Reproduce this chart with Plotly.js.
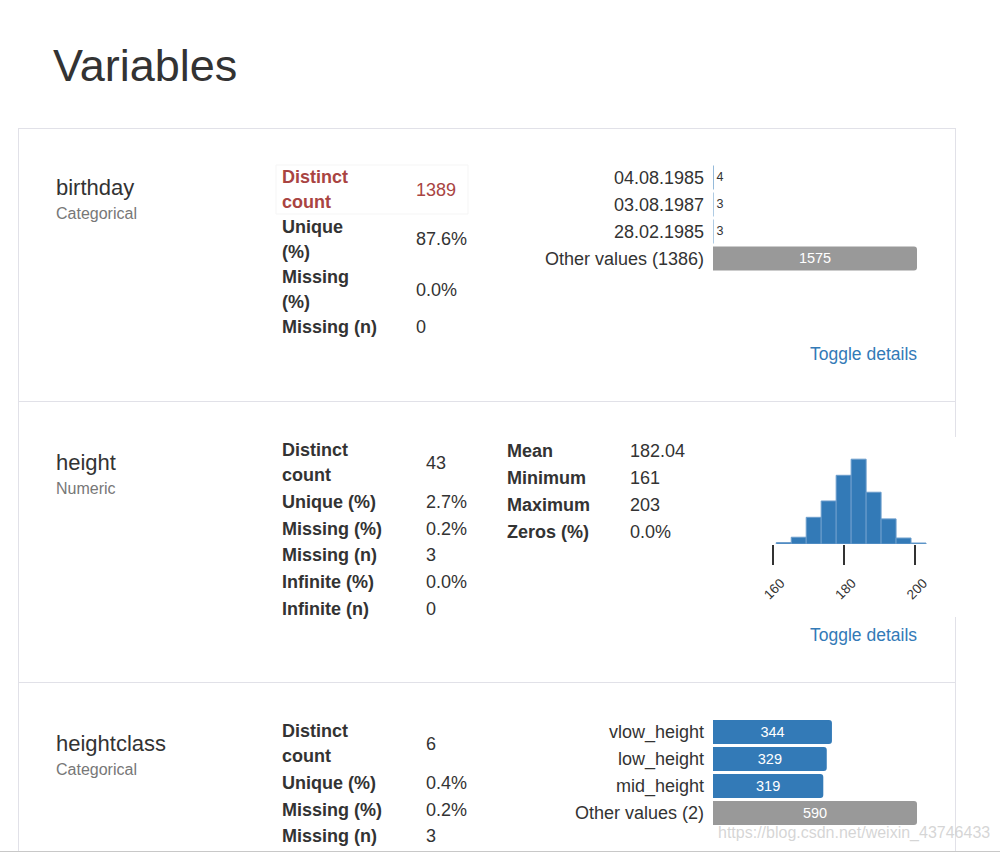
<!DOCTYPE html>
<html>
<head>
<meta charset="utf-8">
<script src="https://cdn.plot.ly/plotly-3.0.1.min.js"></script>
<style>html,body{margin:0;padding:0;background:#fff;}#chart{width:1000px;height:852px;}</style>
</head>
<body>
<div id="chart"></div>
<script>
// ---------------- data ----------------
const pageTitle = 'Variables';
const variableNames = ['birthday', 'height', 'heightclass'];
const variableTypes = ['Categorical', 'Numeric', 'Categorical'];

const birthdayStatLabels = [['Distinct', 'count'], ['Unique', '(%)'], ['Missing', '(%)'], ['Missing (n)']];
const birthdayStatValues = ['1389', '87.6%', '0.0%', '0'];
const birthdayTopCats = ['04.08.1985', '03.08.1987', '28.02.1985', 'Other values (1386)'];
const birthdayTopCounts = [4, 3, 3, 1575];

const heightStatLabels = [['Distinct', 'count'], ['Unique (%)'], ['Missing (%)'], ['Missing (n)'], ['Infinite (%)'], ['Infinite (n)']];
const heightStatValues = ['43', '2.7%', '0.2%', '3', '0.0%', '0'];
const heightSummaryLabels = ['Mean', 'Minimum', 'Maximum', 'Zeros (%)'];
const heightSummaryValues = ['182.04', '161', '203', '0.0%'];
const heightBinStart = 161;
const heightBinEnd = 203;
const heightCounts = [7, 34, 134, 216, 345, 426, 260, 126, 30, 5];
const heightTicks = [160, 180, 200];

const heightclassStatLabels = [['Distinct', 'count'], ['Unique (%)'], ['Missing (%)'], ['Missing (n)']];
const heightclassStatValues = ['6', '0.4%', '0.2%', '3'];
const heightclassCats = ['vlow_height', 'low_height', 'mid_height', 'Other values (2)'];
const heightclassCounts = [344, 329, 319, 590];

const toggleText = 'Toggle details';
const watermark = 'https://blog.csdn.net/weixin_43746433';

// ---------------- helpers ----------------
const W = 1000, H = 852;
const FONT = '"Liberation Sans", Arial, Helvetica, sans-serif';
const fx = px => px / W;
const fy = py => 1 - py / H;
const BLUE = '#337ab7', GREY = '#999999', TXT = '#333333', RED = '#a94442', MUTED = '#777777';

const annotations = [];
function ann(text, x, y, size, color, opts) {
  const a = Object.assign({
    text: text, x: fx(x), y: fy(y), xref: 'paper', yref: 'paper',
    xanchor: 'left', yanchor: 'middle', showarrow: false,
    borderpad: 0, borderwidth: 0,
    font: { family: FONT, size: size, color: color }
  }, opts || {});
  if (opts && opts.weight) { a.font.weight = opts.weight; delete a.weight; }
  annotations.push(a);
}

function statsBlock(labels, values, xl, xv, yStart, lineH, rowGap, redFirst) {
  let y = yStart;
  labels.forEach((lines, r) => {
    const ys = lines.map((_, i) => y + i * lineH);
    const col = (redFirst && r === 0) ? RED : TXT;
    lines.forEach((t, i) => ann(t, xl, ys[i], 18, col, { weight: 700 }));
    const vy = (ys[0] + ys[ys.length - 1]) / 2;
    ann(values[r], xv, vy, 18, col);
    y = ys[ys.length - 1] + rowGap;
  });
}

// Title
ann(pageTitle, 53, 65, 45, TXT);

// Variable names/types
const nameY = [188, 462, 743];
variableNames.forEach((n, i) => {
  ann(n, 56, nameY[i], 22, TXT);
  ann(variableTypes[i], 56, nameY[i] + 26, 16, MUTED);
});

// Stats blocks
statsBlock(birthdayStatLabels, birthdayStatValues, 282, 416, 177, 25, 25, true);
statsBlock(heightStatLabels, heightStatValues, 282, 426, 450, 25, 26.8, false);
statsBlock(heightclassStatLabels, heightclassStatValues, 282, 426, 731, 25, 26.8, false);
heightSummaryLabels.forEach((t, i) => {
  ann(t, 507, 451 + i * 27, 18, TXT, { weight: 700 });
  ann(heightSummaryValues[i], 630, 451 + i * 27, 18, TXT);
});

// Toggle details
[354, 635].forEach(y => ann(toggleText, 917, y, 17.5, BLUE, { xanchor: 'right' }));

// Watermark
ann(watermark, 990, 833, 16, 'rgba(200,200,200,0.75)', { xanchor: 'right' });

// ---------------- shapes ----------------
const BORDER = '#e1e1e8';
const shapes = [];
function line(x0, y0, x1, y1, color, w) {
  shapes.push({ type: 'line', xref: 'paper', yref: 'paper', x0: fx(x0), y0: fy(y0), x1: fx(x1), y1: fy(y1),
    line: { color: color, width: w || 1 }, layer: 'below' });
}
line(18, 128.5, 955.5, 128.5, BORDER);
line(18.5, 128, 18.5, 852, BORDER);
line(955.5, 128, 955.5, 852, BORDER);
line(18, 401.5, 955.5, 401.5, BORDER);
line(18, 682.5, 955.5, 682.5, BORDER);
line(0, 851.5, 1000, 851.5, '#c8c8c8');
// white backdrop of the histogram image
shapes.push({ type: 'rect', xref: 'paper', yref: 'paper', x0: fx(738), x1: fx(960), y0: fy(617), y1: fy(437),
  fillcolor: '#ffffff', line: { width: 0 }, layer: 'below' });
// faint highlight box around Distinct count
shapes.push({ type: 'rect', xref: 'paper', yref: 'paper', x0: fx(276), x1: fx(468), y0: fy(214), y1: fy(165),
  fillcolor: 'rgba(0,0,0,0)', line: { color: '#f5f5f5', width: 1 }, layer: 'below' });

// ---------------- traces ----------------
const binW = (heightBinEnd - heightBinStart) / heightCounts.length;
const histTrace = {
  type: 'bar',
  x: heightCounts.map((_, i) => heightBinStart + (i + 0.5) * binW),
  y: heightCounts,
  width: heightCounts.map(() => binW),
  marker: { color: BLUE, line: { color: '#6b9dcc', width: 1 } },
  xaxis: 'x', yaxis: 'y', hoverinfo: 'x+y'
};

function barColors(cats) { return cats.map(c => c.indexOf('Other values') === 0 ? GREY : BLUE); }
function textPos(counts) {
  const mx = Math.max.apply(null, counts);
  return counts.map(v => v / mx < 0.1 ? 'outside' : 'inside');
}

function topValuesTrace(cats, counts, xa, ya) {
  return {
    type: 'bar', orientation: 'h',
    y: cats, x: counts,
    text: counts.map(String), textposition: textPos(counts),
    insidetextanchor: 'middle', constraintext: 'none', cliponaxis: false,
    insidetextfont: { family: FONT, size: 14.5, color: '#ffffff' },
    outsidetextfont: { family: FONT, size: 12.5, color: TXT },
    marker: { color: barColors(cats), cornerradius: 3, line: { width: 0 } },
    xaxis: xa, yaxis: ya
  };
}
const birthdayTrace = topValuesTrace(birthdayTopCats, birthdayTopCounts, 'x2', 'y2');
const heightclassTrace = topValuesTrace(heightclassCats, heightclassCounts, 'x3', 'y3');

const hiddenX = (d0, d1, maxV) => ({ domain: [fx(d0), fx(d1)], range: [0, maxV], visible: false, fixedrange: true });
const catY = (top, bottom, anchor) => ({
  domain: [fy(bottom), fy(top)], type: 'category', autorange: 'reversed', anchor: anchor,
  showgrid: false, zeroline: false, showline: false, ticks: '', ticklabelstandoff: 8,
  tickfont: { family: FONT, size: 18, color: TXT }, fixedrange: true
});

const layout = {
  width: W, height: H,
  margin: { l: 0, r: 0, t: 0, b: 0, pad: 0 },
  paper_bgcolor: '#ffffff', plot_bgcolor: 'rgba(0,0,0,0)',
  showlegend: false, bargap: 0.11,
  font: { family: FONT, color: TXT },
  xaxis: {
    domain: [fx(760), fx(930)], range: [156.44, 204.12], anchor: 'y',
    tickvals: heightTicks, ticktext: heightTicks.map(String),
    ticks: 'outside', ticklen: 20, tickwidth: 2, tickcolor: '#333',
    tickangle: -45, tickfont: { family: FONT, size: 13.5, color: TXT },
    ticklabelshift: 8, ticklabelstandoff: 5,
    showgrid: false, zeroline: false, showline: false, fixedrange: true
  },
  yaxis: { domain: [fy(544), fy(454)], range: [0, 452], visible: false, fixedrange: true },
  xaxis2: Object.assign(hiddenX(713, 917, Math.max.apply(null, birthdayTopCounts)), { anchor: 'y2' }),
  yaxis2: catY(164, 272, 'x2'),
  xaxis3: Object.assign(hiddenX(713, 917, Math.max.apply(null, heightclassCounts)), { anchor: 'y3' }),
  yaxis3: catY(718.5, 826.5, 'x3'),
  annotations: annotations,
  shapes: shapes
};

Plotly.newPlot('chart', [histTrace, birthdayTrace, heightclassTrace], layout, { displayModeBar: false, staticPlot: true });
</script>
</body>
</html>
